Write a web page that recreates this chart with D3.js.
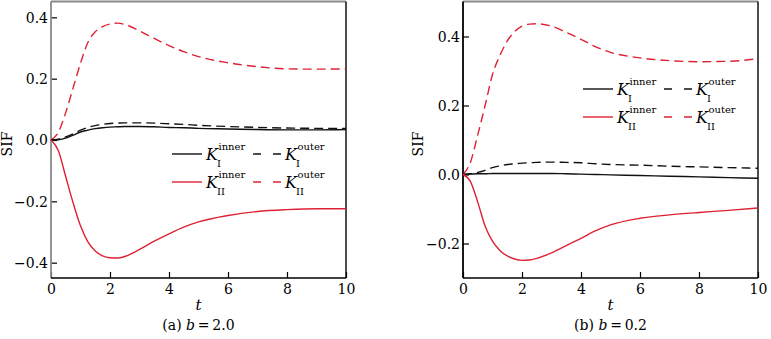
<!DOCTYPE html>
<html><head><meta charset="utf-8">
<script src="https://cdn.jsdelivr.net/npm/d3@7"></script>
<style>
body{margin:0;background:#fff;}
svg text{fill:#000;}
</style></head>
<body><svg id="c" width="771" height="339"></svg>
<script>
const tVals = [0,0.25,0.5,0.75,1,1.25,1.5,1.75,2,2.25,2.5,3,3.5,4,4.5,5,6,7,8,9,10];
// (a) b = 2.0
const aKIinner  = [0,0.001,0.006,0.016,0.026,0.032,0.037,0.040,0.042,0.043,0.044,0.044,0.043,0.041,0.040,0.038,0.036,0.034,0.033,0.033,0.034];
const aKIouter  = [0,0.003,0.010,0.020,0.032,0.041,0.047,0.051,0.054,0.055,0.056,0.056,0.055,0.053,0.051,0.048,0.044,0.041,0.039,0.038,0.038];
const aKIIinner = [0,-0.035,-0.12,-0.205,-0.28,-0.332,-0.362,-0.378,-0.384,-0.385,-0.38,-0.357,-0.33,-0.306,-0.284,-0.267,-0.246,-0.233,-0.227,-0.224,-0.224];
const aKIIouter = [0,0.025,0.09,0.17,0.25,0.318,0.353,0.37,0.378,0.381,0.377,0.356,0.331,0.308,0.288,0.272,0.252,0.239,0.232,0.231,0.232];
// (b) b = 0.2
const bKIinner  = [0,0.001,0.002,0.002,0.003,0.003,0.003,0.003,0.003,0.003,0.003,0.003,0.002,0.001,0,-0.001,-0.003,-0.005,-0.007,-0.009,-0.011];
const bKIouter  = [0,0.002,0.006,0.012,0.020,0.025,0.029,0.031,0.033,0.034,0.035,0.036,0.035,0.034,0.031,0.029,0.027,0.024,0.022,0.020,0.018];
const bKIIinner = [0,-0.02,-0.08,-0.15,-0.193,-0.22,-0.236,-0.245,-0.249,-0.248,-0.243,-0.227,-0.206,-0.185,-0.163,-0.146,-0.127,-0.117,-0.11,-0.104,-0.097];
const bKIIouter = [0,0.035,0.115,0.2,0.29,0.345,0.387,0.414,0.43,0.436,0.437,0.43,0.412,0.392,0.37,0.354,0.338,0.33,0.327,0.328,0.336];

const xTicks = [0,2,4,6,8,10];
const aYTicks = [-0.4,-0.2,0,0.2,0.4];
const bYTicks = [-0.2,0,0.2,0.4];
const captionA = ["(a) ", "b", "\u2009=\u20092.0"];
const captionB = ["(b) ", "b", "\u2009=\u20090.2"];

const FONT = "DejaVu Serif";
const RED = "#de2235", BLACK = "#111";
const svg = d3.select("#c");
const fmt = d3.format(".1f");

function panel(opt){
  const x = d3.scaleLinear().domain([0,10]).range([opt.x0, opt.x1]);
  const y = d3.scaleLinear().domain(opt.ydom).range([278, 2]);
  const g = svg.append("g").attr("font-family",FONT);
  const ya = d3.axisLeft(y).tickValues(opt.yticks).tickSizeInner(-6).tickSizeOuter(0).tickPadding(3).tickFormat(fmt);
  const yg = g.append("g").attr("transform",`translate(${opt.x0},0)`).call(ya).attr("font-family",FONT);
  yg.select(".domain").remove();
  yg.selectAll("line").attr("stroke","#000").attr("stroke-width",1.2);
  yg.selectAll("text").attr("font-size",14).attr("dy","0.35em");
  const xa = d3.axisBottom(x).tickValues(xTicks).tickSizeInner(-6).tickSizeOuter(0).tickPadding(6).tickFormat(d3.format("d"));
  const xg = g.append("g").attr("transform","translate(0,278)").call(xa).attr("font-family",FONT);
  xg.select(".domain").remove();
  xg.selectAll("line").attr("stroke","#000").attr("stroke-width",1.2);
  xg.selectAll("text").attr("font-size",14);
  const fr = (x1,y1,x2,y2,c,w)=>g.append("line").attr("x1",x1).attr("y1",y1).attr("x2",x2).attr("y2",y2).attr("stroke",c).attr("stroke-width",w);
  fr(opt.x0,1.5,opt.x1,1.5,"#8a8a8a",1.8);
  fr(opt.x0,1.5,opt.x0,278,opt.leftColor,1.8);
  fr(opt.x1,1.5,opt.x1,278,"#000",1.4);
  fr(opt.x0,278,opt.x1,278,"#000",1.6);
  const line = d3.line().x((d,i)=>x(tVals[i])).y(d=>y(d)).curve(d3.curveMonotoneX);
  const series = [
    {v:opt.s[3], c:RED, dash:"9,5"},
    {v:opt.s[1], c:BLACK, dash:"9,5"},
    {v:opt.s[0], c:BLACK, dash:null},
    {v:opt.s[2], c:RED, dash:null}
  ];
  series.forEach(s=>{
    g.append("path").attr("d",line(s.v)).attr("fill","none").attr("stroke",s.c)
     .attr("stroke-width",1.4).attr("stroke-dasharray",s.dash);
  });
  const cx = (opt.x0+opt.x1)/2;
  g.append("text").attr("x",cx).attr("y",310).attr("text-anchor","middle").attr("font-size",15).attr("font-style","italic").text("t");
  const cap = g.append("text").attr("x",cx).attr("y",330).attr("text-anchor","middle").attr("font-size",14);
  cap.append("tspan").text(opt.cap[0]);
  cap.append("tspan").attr("font-style","italic").text(opt.cap[1]);
  cap.append("tspan").text(opt.cap[2]);
  g.append("text").attr("transform",`translate(${opt.sifX},144) rotate(-90)`).attr("text-anchor","middle").attr("font-size",14).text("SIF");
  const lx = opt.lx, ly = opt.ly;
  const rows = [{c:BLACK, sub:"I"},{c:RED, sub:"II"}];
  rows.forEach((r,i)=>{
    const yy = ly + i*28;
    g.append("line").attr("x1",lx).attr("x2",lx+30).attr("y1",yy).attr("y2",yy).attr("stroke",r.c).attr("stroke-width",1.4);
    g.append("line").attr("x1",lx+81).attr("x2",lx+109).attr("y1",yy).attr("y2",yy).attr("stroke",r.c).attr("stroke-width",1.4).attr("stroke-dasharray","8,12");
    [[lx+34,"inner"],[lx+113,"outer"]].forEach(([kx,sup])=>{
      const k = g.append("text").attr("x",kx).attr("y",yy+6).attr("font-size",16).attr("font-style","italic").text("K");
      const w = k.node().getComputedTextLength();
      g.append("text").attr("x",kx+w+0.5).attr("y",yy-4).attr("font-size",10).text(sup);
      g.append("text").attr("x",kx+w-1).attr("y",yy+13).attr("font-size",10).text(r.sub);
    });
  });
}

panel({x0:51, x1:346, ydom:[-0.45,0.45], yticks:aYTicks, s:[aKIinner,aKIouter,aKIIinner,aKIIouter],
  cap:captionA, sifX:12, lx:172, ly:154, leftColor:"#8a8a8a"});
panel({x0:463, x1:758, ydom:[-0.3,0.5], yticks:bYTicks, s:[bKIinner,bKIouter,bKIIinner,bKIIouter],
  cap:captionB, sifX:423, lx:583, ly:89, leftColor:"#000"});
</script></body></html>
